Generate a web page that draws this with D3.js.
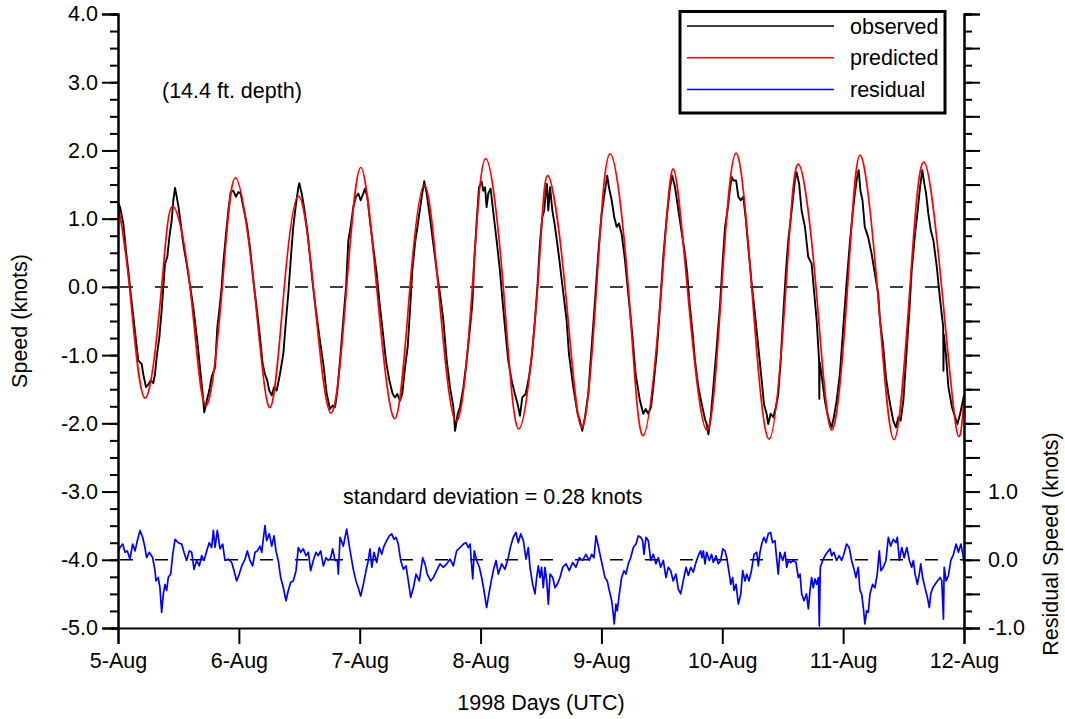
<!DOCTYPE html>
<html>
<head>
<meta charset="utf-8">
<script src="https://cdn.jsdelivr.net/npm/d3@7"></script>
<style>
  body { margin: 0; background: #fff; }
  svg text { font-family: "Liberation Sans", Arial, sans-serif; font-size: 21.5px; fill: #000; }
</style>
</head>
<body>
<div id="chart"></div>
<script>
// time is days after 5-Aug-1998 00:00 UTC, speeds in knots
let startDay = Date.UTC(1998, 7, 5)
let dayLabels = ["5-Aug", "6-Aug", "7-Aug", "8-Aug", "9-Aug", "10-Aug", "11-Aug", "12-Aug"]
let speedTicks = [-5, -4, -3, -2, -1, 0, 1, 2, 3, 4]
let residualLabels = [-1, 0, 1]

// predicted tide: extremes and zero crossings
let predicted = [
    [0, 1.22], [0.095, 0], [0.223, -1.63], [0.361, 0], [0.452, 1.18], [0.596, 0], [0.725, -1.74],
    [0.863, 0], [0.971, 1.60], [1.125, 0], [1.258, -1.77], [1.376, 0], [1.492, 1.33], [1.616, 0],
    [1.760, -1.85], [1.892, 0], [2.008, 1.75], [2.140, 0], [2.291, -1.93], [2.416, 0], [2.534, 1.49],
    [2.650, 0], [2.797, -1.97], [2.932, 0], [3.042, 1.88], [3.188, 0], [3.318, -2.08], [3.472, 0],
    [3.555, 1.63], [3.699, 0], [3.836, -2.06], [3.960, 0], [4.071, 1.95], [4.222, 0], [4.345, -2.18],
    [4.497, 0], [4.594, 1.73], [4.710, 0], [4.871, -2.10], [4.995, 0], [5.113, 1.96], [5.243, 0],
    [5.388, -2.23], [5.527, 0], [5.629, 1.80], [5.775, 0], [5.905, -2.10], [6.037, 0], [6.139, 1.93],
    [6.282, 0], [6.421, -2.24], [6.553, 0], [6.669, 1.83], [6.815, 0], [6.939, -2.10], [7.0, -1.64]
]

let observed = [
    [0, 1.24], [0.017, 1.17], [0.044, 0.93], [0.066, 0.53], [0.085, 0.24], [0.105, -0.10], [0.127, -0.44],
    [0.149, -0.79], [0.168, -1.08], [0.196, -1.13], [0.209, -1.28], [0.232, -1.47], [0.251, -1.43],
    [0.27, -1.37], [0.292, -1.41], [0.306, -1.28], [0.32, -1.03], [0.342, -0.74], [0.361, -0.35],
    [0.375, 0], [0.389, 0.34], [0.408, 0.44], [0.425, 0.73], [0.444, 0.97], [0.458, 1.27], [0.472, 1.45],
    [0.486, 1.32], [0.499, 1.19], [0.519, 0.93], [0.54, 0.63], [0.568, 0.34], [0.596, 0.02], [0.623, -0.30],
    [0.656, -0.79], [0.678, -1.18], [0.701, -1.57], [0.714, -1.84], [0.734, -1.67], [0.755, -1.52],
    [0.775, -1.32], [0.803, -1.18], [0.822, -0.59], [0.838, -0.35], [0.858, 0], [0.871, 0.34], [0.894, 0.78],
    [0.913, 1.12], [0.932, 1.39], [0.954, 1.41], [0.976, 1.32], [0.995, 1.39], [1.015, 1.37], [1.037, 1.17],
    [1.065, 0.93], [1.092, 0.58], [1.125, 0.02], [1.147, -0.30], [1.175, -0.74], [1.197, -1.13],
    [1.216, -1.28], [1.235, -1.37], [1.252, -1.52], [1.272, -1.59], [1.291, -1.47], [1.313, -1.52],
    [1.34, -1.28], [1.368, -0.98], [1.39, -0.49], [1.409, -0.10], [1.429, 0.39], [1.45, 0.88], [1.473, 1.22],
    [1.492, 1.46], [1.5, 1.52], [1.52, 1.37], [1.539, 1.17], [1.566, 0.83], [1.589, 0.44], [1.611, 0.05],
    [1.638, -0.35], [1.671, -0.79], [1.699, -1.13], [1.727, -1.57], [1.754, -1.79], [1.777, -1.74],
    [1.796, -1.76], [1.815, -1.52], [1.837, -1.08], [1.864, -0.49], [1.887, 0], [1.906, 0.68], [1.925, 0.88],
    [1.947, 1.17], [1.969, 1.32], [1.988, 1.37], [2.008, 1.27], [2.03, 1.37], [2.044, 1.44], [2.063, 1.32],
    [2.085, 0.97], [2.112, 0.58], [2.141, 0.19], [2.162, -0.20], [2.19, -0.64], [2.217, -1.08],
    [2.245, -1.37], [2.273, -1.57], [2.292, -1.62], [2.311, -1.57], [2.333, -1.67], [2.352, -1.57],
    [2.375, -1.18], [2.397, -0.88], [2.416, -0.35], [2.435, 0.24], [2.457, 0.63], [2.485, 0.97], [2.513, 1.32],
    [2.534, 1.55], [2.554, 1.37], [2.581, 1.02], [2.609, 0.63], [2.637, 0.24], [2.664, -0.10], [2.692, -0.49],
    [2.72, -1.08], [2.747, -1.47], [2.775, -1.76], [2.789, -2.11], [2.811, -1.86], [2.83, -1.76],
    [2.858, -1.47], [2.885, -1.08], [2.913, -0.59], [2.932, -0.25], [2.948, 0.39], [2.968, 0.97],
    [2.987, 1.46], [3.009, 1.54], [3.022, 1.41], [3.037, 1.46], [3.05, 1.17], [3.064, 1.37], [3.083, 1.44],
    [3.105, 1.10], [3.133, 0.68], [3.16, 0.24], [3.179, -0.15], [3.202, -0.59], [3.229, -1.08],
    [3.257, -1.37], [3.284, -1.57], [3.307, -1.72], [3.326, -1.89], [3.345, -1.62], [3.373, -1.57],
    [3.401, -1.32], [3.423, -1.03], [3.45, -0.49], [3.472, 0.05], [3.491, 0.63], [3.51, 1.02], [3.527, 1.12],
    [3.538, 1.37], [3.549, 1.51], [3.56, 1.12], [3.575, 1.46], [3.594, 1.12], [3.616, 0.88], [3.649, 0.44],
    [3.685, -0.10], [3.712, -0.49], [3.731, -0.98], [3.767, -1.47], [3.803, -1.86], [3.822, -1.96],
    [3.841, -2.11], [3.864, -1.91], [3.891, -1.57], [3.919, -0.88], [3.941, -0.35], [3.96, 0.14],
    [3.98, 0.63], [4.002, 1.07], [4.029, 1.41], [4.048, 1.63], [4.062, 1.46], [4.085, 1.27], [4.106, 1.02],
    [4.126, 0.88], [4.145, 0.93], [4.167, 0.78], [4.195, 0.39], [4.222, -0.10], [4.255, -0.69],
    [4.283, -1.28], [4.319, -1.67], [4.346, -1.86], [4.366, -1.79], [4.388, -1.86], [4.41, -1.76],
    [4.429, -1.47], [4.457, -0.98], [4.484, -0.30], [4.512, 0.44], [4.54, 1.02], [4.567, 1.46], [4.586, 1.63],
    [4.609, 1.46], [4.637, 1.12], [4.67, 0.73], [4.691, 0.49], [4.71, 0.19], [4.727, -0.20], [4.755, -0.69],
    [4.774, -1.08], [4.802, -1.47], [4.83, -1.72], [4.857, -1.94], [4.871, -2.01], [4.885, -2.16],
    [4.904, -1.91], [4.926, -1.47], [4.954, -0.88], [4.982, -0.25], [5.004, 0.39], [5.023, 0.88],
    [5.043, 1.12], [5.065, 1.46], [5.079, 1.61], [5.092, 1.56], [5.114, 1.56], [5.133, 1.32], [5.153, 1.27],
    [5.174, 1.32], [5.196, 0.97], [5.215, 0.58], [5.243, 0.05], [5.27, -0.39], [5.298, -0.88], [5.326, -1.37],
    [5.345, -1.72], [5.367, -1.86], [5.38, -2.01], [5.4, -1.86], [5.422, -1.91], [5.444, -1.76],
    [5.463, -1.57], [5.483, -1.08], [5.505, -0.39], [5.527, 0.24], [5.546, 0.68], [5.574, 1.12], [5.601, 1.56],
    [5.615, 1.68], [5.636, 1.51], [5.656, 1.12], [5.684, 0.88], [5.711, 0.44], [5.739, 0.34], [5.761, -0.10],
    [5.781, -0.49], [5.801, -1.08], [5.803, -1.64], [5.806, -1.10], [5.821, -1.28], [5.849, -1.67],
    [5.876, -1.91], [5.904, -2.06], [5.923, -1.91], [5.946, -1.67], [5.973, -1.28], [6.001, -0.59],
    [6.028, 0.05], [6.055, 0.63], [6.078, 1.07], [6.097, 1.37], [6.116, 1.61], [6.129, 1.71], [6.143, 1.41],
    [6.16, 1.27], [6.179, 0.88], [6.207, 0.73], [6.235, 0.49], [6.263, 0.19], [6.29, -0.10], [6.305, -0.49],
    [6.332, -0.88], [6.354, -1.32], [6.374, -1.57], [6.393, -1.76], [6.415, -1.96], [6.437, -2.06],
    [6.457, -1.91], [6.476, -1.96], [6.498, -1.67], [6.52, -1.08], [6.548, -0.35], [6.567, 0.24],
    [6.595, 0.78], [6.614, 1.07], [6.636, 1.46], [6.655, 1.71], [6.672, 1.51], [6.686, 1.37], [6.705, 1.07],
    [6.725, 0.83], [6.747, 0.68], [6.775, 0.29], [6.803, -0.20], [6.828, -0.59], [6.83, -1.23],
    [6.833, -0.70], [6.85, -0.98], [6.871, -1.47], [6.9, -1.76], [6.927, -1.91], [6.946, -2.01],
    [6.968, -1.86], [6.991, -1.67], [7.0, -1.59]
]

let residual = [
    [0, 0.11], [0.017, 0.18], [0.039, 0.23], [0.058, 0.11], [0.077, 0.13], [0.099, 0.01], [0.121, 0.23],
    [0.141, 0.13], [0.16, 0.28], [0.182, 0.43], [0.204, 0.33], [0.223, 0.18], [0.237, 0.03], [0.259, 0.11],
    [0.287, 0.03], [0.306, -0.16], [0.314, -0.31], [0.333, -0.26], [0.347, -0.41], [0.361, -0.77],
    [0.375, -0.50], [0.389, -0.36], [0.403, -0.45], [0.416, -0.26], [0.436, -0.21], [0.453, 0.08],
    [0.472, 0.30], [0.499, 0.25], [0.527, 0.23], [0.546, 0.11], [0.568, -0.01], [0.59, 0.13], [0.61, 0.11],
    [0.629, -0.14], [0.651, -0.01], [0.673, -0.09], [0.692, 0.06], [0.712, -0.01], [0.734, 0.13],
    [0.755, 0.25], [0.775, 0.18], [0.789, 0.43], [0.803, 0.18], [0.822, 0.43], [0.844, 0.16], [0.866, 0.23],
    [0.885, -0.01], [0.913, 0.01], [0.941, -0.04], [0.96, -0.16], [0.982, -0.31], [1.003, -0.21],
    [1.024, -0.09], [1.051, 0.01], [1.07, 0.13], [1.092, -0.01], [1.114, -0.09], [1.134, 0.11], [1.153, 0.13],
    [1.175, 0.20], [1.189, 0.11], [1.202, 0.30], [1.216, 0.50], [1.23, 0.28], [1.252, 0.38], [1.272, 0.20],
    [1.291, 0.35], [1.307, 0.13], [1.326, -0.01], [1.346, -0.26], [1.368, -0.41], [1.39, -0.60],
    [1.409, -0.45], [1.429, -0.33], [1.45, -0.31], [1.473, -0.16], [1.492, 0.18], [1.512, 0.11],
    [1.533, 0.16], [1.555, 0.06], [1.575, 0.11], [1.594, -0.16], [1.616, -0.01], [1.638, 0.11],
    [1.657, 0.06], [1.677, 0.13], [1.699, -0.09], [1.721, 0.03], [1.74, -0.01], [1.76, 0.03], [1.776, 0.16],
    [1.796, -0.01], [1.815, -0.01], [1.823, -0.21], [1.837, 0.33], [1.864, 0.20], [1.892, 0.45],
    [1.914, 0.20], [1.934, -0.01], [1.947, -0.14], [1.969, -0.31], [1.988, -0.41], [2.008, -0.53],
    [2.03, -0.36], [2.052, -0.16], [2.071, -0.01], [2.085, 0.16], [2.1, -0.11], [2.118, 0.11], [2.141, -0.04],
    [2.162, 0.18], [2.182, 0.08], [2.201, 0.20], [2.223, 0.28], [2.245, 0.35], [2.265, 0.38], [2.284, 0.30],
    [2.3, 0.33], [2.319, 0.23], [2.339, -0.01], [2.361, -0.14], [2.383, -0.09], [2.402, -0.31],
    [2.422, -0.55], [2.444, -0.41], [2.466, -0.21], [2.493, -0.31], [2.521, 0.03], [2.54, -0.06],
    [2.559, -0.21], [2.587, -0.31], [2.609, -0.26], [2.637, -0.16], [2.664, -0.06], [2.692, -0.11],
    [2.72, -0.06], [2.747, 0.01], [2.775, -0.09], [2.802, 0.13], [2.83, 0.18], [2.858, 0.23], [2.879, 0.25],
    [2.898, 0.18], [2.913, 0.23], [2.935, -0.28], [2.948, 0.13], [2.968, -0.01], [2.99, -0.11],
    [3.009, -0.26], [3.028, -0.45], [3.05, -0.70], [3.064, -0.55], [3.083, -0.36], [3.105, -0.16],
    [3.128, -0.01], [3.147, -0.21], [3.175, -0.06], [3.202, -0.14], [3.229, 0.03], [3.249, 0.20],
    [3.271, 0.33], [3.293, 0.40], [3.312, 0.25], [3.332, 0.38], [3.354, 0.28], [3.376, 0.01], [3.395, 0.18],
    [3.409, -0.11], [3.431, -0.36], [3.45, -0.50], [3.464, -0.26], [3.478, -0.09], [3.492, -0.26],
    [3.505, -0.11], [3.519, -0.41], [3.533, -0.11], [3.547, -0.31], [3.561, -0.65], [3.575, -0.21],
    [3.597, -0.26], [3.616, -0.41], [3.635, -0.36], [3.657, -0.26], [3.68, -0.11], [3.707, -0.06],
    [3.734, -0.16], [3.762, -0.04], [3.789, -0.11], [3.817, 0.03], [3.844, -0.01], [3.872, 0.08],
    [3.899, -0.01], [3.919, 0.08], [3.938, 0.03], [3.955, 0.35], [3.974, 0.20], [3.994, 0.03],
    [4.015, -0.14], [4.029, -0.26], [4.048, -0.31], [4.065, -0.45], [4.085, -0.60], [4.098, -0.80],
    [4.106, -0.94], [4.12, -0.65], [4.131, -0.75], [4.148, -0.50], [4.167, -0.26], [4.187, -0.16],
    [4.203, -0.21], [4.222, -0.06], [4.242, 0.03], [4.264, 0.18], [4.286, 0.23], [4.305, 0.35],
    [4.325, 0.33], [4.341, 0.28], [4.352, 0.08], [4.369, 0.33], [4.388, 0.28], [4.408, -0.01], [4.429, 0.08],
    [4.451, -0.06], [4.471, 0.03], [4.49, -0.11], [4.512, -0.01], [4.534, -0.26], [4.553, -0.11],
    [4.573, -0.16], [4.594, -0.31], [4.617, -0.21], [4.636, -0.43], [4.656, -0.50], [4.677, -0.31],
    [4.7, -0.11], [4.719, -0.23], [4.739, -0.11], [4.76, -0.18], [4.782, -0.04], [4.801, 0.06], [4.821, 0.13],
    [4.832, 0.03], [4.843, 0.13], [4.857, -0.06], [4.871, 0.11], [4.893, -0.01], [4.912, 0.08],
    [4.926, -0.04], [4.948, 0.06], [4.967, -0.06], [4.987, -0.01], [5.004, 0.16], [5.023, 0.13],
    [5.037, 0.03], [5.058, -0.21], [5.07, -0.36], [5.086, -0.26], [5.097, -0.45], [5.114, -0.36],
    [5.133, -0.65], [5.153, -0.50], [5.169, -0.16], [5.188, -0.31], [5.202, -0.21], [5.221, -0.31],
    [5.241, -0.16], [5.263, 0.08], [5.285, 0.11], [5.298, -0.09], [5.312, 0.11], [5.326, 0.23], [5.345, 0.33],
    [5.362, 0.25], [5.38, 0.38], [5.4, 0.40], [5.416, 0.25], [5.436, 0.28], [5.449, 0.03], [5.463, -0.21],
    [5.477, 0.11], [5.5, -0.01], [5.519, 0.11], [5.533, -0.11], [5.546, -0.01], [5.566, -0.04],
    [5.588, -0.01], [5.61, -0.04], [5.629, -0.26], [5.643, -0.21], [5.657, -0.50], [5.676, -0.60],
    [5.697, -0.50], [5.712, -0.72], [5.726, -0.45], [5.739, -0.26], [5.753, -0.41], [5.767, -0.28],
    [5.781, -0.36], [5.795, -0.26], [5.803, -0.97], [5.811, -0.11], [5.831, -0.01], [5.85, 0.06],
    [5.869, 0.11], [5.892, 0.16], [5.905, 0.06], [5.923, 0.11], [5.946, -0.01], [5.967, 0.06],
    [5.987, -0.01], [6.006, 0.08], [6.028, 0.23], [6.05, 0.18], [6.07, -0.01], [6.09, -0.14], [6.106, -0.26],
    [6.125, -0.11], [6.139, -0.45], [6.153, -0.50], [6.167, -0.70], [6.18, -0.94], [6.194, -0.75],
    [6.208, -0.77], [6.222, -0.50], [6.244, -0.36], [6.263, -0.41], [6.282, -0.21], [6.299, 0.13],
    [6.313, -0.16], [6.332, -0.11], [6.354, -0.01], [6.374, 0.33], [6.393, 0.20], [6.415, 0.30],
    [6.437, 0.25], [6.448, 0.33], [6.465, -0.01], [6.485, 0.18], [6.505, 0.03], [6.527, 0.18],
    [6.548, -0.01], [6.567, -0.11], [6.581, -0.01], [6.595, -0.21], [6.614, -0.36], [6.63, -0.21],
    [6.642, -0.06], [6.658, -0.26], [6.677, -0.41], [6.697, -0.55], [6.713, -0.70], [6.725, -0.50],
    [6.742, -0.41], [6.761, -0.36], [6.78, -0.31], [6.803, -0.26], [6.816, -0.31], [6.83, -0.87],
    [6.836, -0.11], [6.852, -0.31], [6.871, -0.23], [6.891, -0.01], [6.913, 0.08], [6.935, 0.23],
    [6.954, 0.11], [6.974, 0.23], [6.991, 0.08], [7.0, -0.06]
]

let margin = {top: 14, right: 101, bottom: 91, left: 118}
let width = 1065 - margin.left - margin.right
let height = 719 - margin.top - margin.bottom

let svg = d3.select("#chart")
    .append("svg")
    .attr("width", 1065)
    .attr("height", 719)
    .append("g")
    .attr("transform", "translate(" + margin.left + "," + margin.top + ")")

let toDate = function (t) {
    return new Date(startDay + t * 864e5)
}

let x = d3.scaleUtc()
    .domain([toDate(0), toDate(7)])
    .range([0, width])
let y = d3.scaleLinear().domain([-5, 4]).range([height, 0])
// residual axis: 0 sits on -4.0 of the speed axis
let yRes = d3.scaleLinear().domain([-1, 8]).range([height, 0])

let fmt = function (d) { return d.toFixed(1) }

// zero lines
svg.append("line")
    .attr("x1", 2).attr("x2", width)
    .attr("y1", y(0)).attr("y2", y(0))
    .attr("stroke", "#000").attr("stroke-width", 1.5)
    .attr("stroke-dasharray", "13,22")
svg.append("line")
    .attr("x1", 2).attr("x2", width)
    .attr("y1", yRes(0)).attr("y2", yRes(0))
    .attr("stroke", "#000").attr("stroke-width", 1.5)
    .attr("stroke-dasharray", "13,22")

let lineObs = d3.line()
    .x(function (d) { return x(toDate(d[0])) })
    .y(function (d) { return y(d[1]) })
let linePred = d3.line()
    .x(function (d) { return x(toDate(d[0])) })
    .y(function (d) { return y(d[1]) })
    .curve(d3.curveNatural)
let lineRes = d3.line()
    .x(function (d) { return x(toDate(d[0])) })
    .y(function (d) { return yRes(d[1]) })

svg.append("path").datum(observed)
    .attr("d", lineObs)
    .attr("fill", "none").attr("stroke", "#000").attr("stroke-width", 1.9)
    .attr("stroke-linejoin", "round")
svg.append("path").datum(predicted)
    .attr("d", linePred)
    .attr("fill", "none").attr("stroke", "#ff0000").attr("stroke-width", 1.7)
svg.append("path").datum(residual)
    .attr("d", lineRes)
    .attr("fill", "none").attr("stroke", "#0000ff").attr("stroke-width", 1.7)
    .attr("stroke-linejoin", "round")

// left axis
let minorLeft = d3.range(-5, 4.001, 0.25)
svg.append("g")
    .call(d3.axisLeft(y).tickValues(minorLeft).tickSize(8).tickFormat(""))
svg.append("g")
    .call(d3.axisLeft(y).tickValues(speedTicks).tickSize(16).tickPadding(4).tickFormat(fmt))

// right axis
let rightG = svg.append("g").attr("transform", "translate(" + width + ",0)")
rightG.append("g")
    .call(d3.axisRight(yRes).tickValues(d3.range(-1, 8.001, 0.25)).tickSize(8).tickFormat(""))
rightG.append("g")
    .call(d3.axisRight(yRes).tickValues(d3.range(-1, 8.001, 0.5)).tickSize(16).tickPadding(8)
        .tickFormat(function (d) { return residualLabels.indexOf(d) >= 0 ? fmt(d) : "" }))

// bottom axis
svg.append("g")
    .attr("transform", "translate(0," + height + ")")
    .call(d3.axisBottom(x)
        .tickValues(dayLabels.map(function (d, i) { return toDate(i) }))
        .tickSize(16).tickPadding(9)
        .tickFormat(function (d, i) { return dayLabels[i] }))

svg.selectAll(".domain").attr("stroke-width", 2)
svg.selectAll(".tick line").attr("stroke-width", 2)
svg.selectAll(".tick text").style("font-size", "21.5px").attr("font-family", null)
svg.selectAll("g").attr("font-size", null).attr("font-family", null)

// titles
svg.append("text")
    .attr("transform", "translate(" + (27 - margin.left) + "," + height / 2 + ") rotate(-90)")
    .attr("text-anchor", "middle")
    .text("Speed (knots)")
svg.append("text")
    .attr("transform", "translate(" + (1058 - margin.left) + "," + (544 - margin.top) + ") rotate(-90)")
    .attr("text-anchor", "middle")
    .text("Residual Speed (knots)")
svg.append("text")
    .attr("x", width / 2).attr("y", 710 - margin.top)
    .attr("text-anchor", "middle")
    .text("1998 Days (UTC)")

svg.append("text")
    .attr("x", 162 - margin.left).attr("y", 98 - margin.top)
    .text("(14.4 ft. depth)")
svg.append("text")
    .attr("x", 343 - margin.left).attr("y", 504 - margin.top)
    .text("standard deviation = 0.28 knots")

// legend
let legendItems = [
    {name: "observed", color: "#000"},
    {name: "predicted", color: "#ff0000"},
    {name: "residual", color: "#0000ff"}
]
let legend = svg.append("g").attr("transform", "translate(" + (680 - margin.left) + "," + (11.5 - margin.top) + ")")
legend.append("rect")
    .attr("width", 265).attr("height", 101.5)
    .attr("fill", "#fff").attr("stroke", "#000").attr("stroke-width", 3)
let rows = legend.selectAll(".row")
    .data(legendItems)
    .enter()
    .append("g")
    .attr("transform", function (d, i) { return "translate(0," + (14.5 + i * 31.7) + ")" })
rows.append("line")
    .attr("x1", 7).attr("x2", 154)
    .attr("stroke", function (d) { return d.color })
    .attr("stroke-width", 1.5)
rows.append("text")
    .attr("x", 170).attr("y", 7.5)
    .text(function (d) { return d.name })
</script>
</body>
</html>
